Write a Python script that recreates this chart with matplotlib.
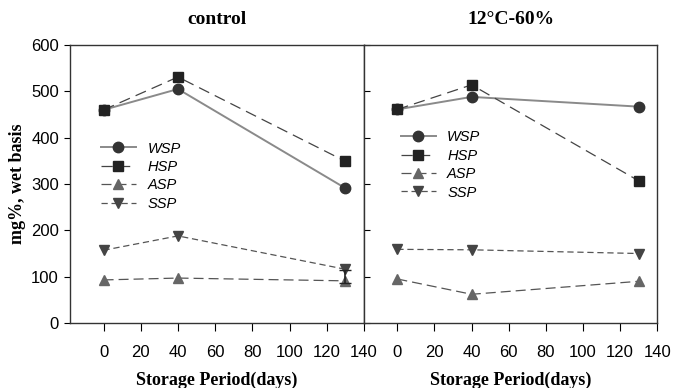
import matplotlib
matplotlib.use("Agg")
import matplotlib.pyplot as plt

days = [0, 40, 130]
series = ["WSP", "HSP", "ASP", "SSP"]
control = {
    "WSP": [460, 505, 291],
    "HSP": [460, 531, 349],
    "ASP": [93, 97, 91],
    "SSP": [157, 188, 116],
}
treated = {
    "WSP": [461, 488, 467],
    "HSP": [461, 514, 307],
    "ASP": [95, 62, 90],
    "SSP": [159, 158, 150],
}
titles = ["control", "12°C-60%"]
xticks = [0, 20, 40, 60, 80, 100, 120, 140]
yticks = [0, 100, 200, 300, 400, 500, 600]

styles = {
    "WSP": dict(color="#8a8a8a", marker="o", mfc="#333333", mec="#333333", ls="-", lw=1.4, ms=7.5),
    "HSP": dict(color="#444444", marker="s", mfc="#222222", mec="#222222", ls=(0, (9, 5)), lw=0.9, ms=7.5),
    "ASP": dict(color="#555555", marker="^", mfc="#666666", mec="#666666", ls=(0, (8, 4)), lw=0.9, ms=7.5),
    "SSP": dict(color="#555555", marker="v", mfc="#444444", mec="#444444", ls=(0, (5, 3)), lw=0.9, ms=7.5),
}

fig = plt.figure(figsize=(6.74, 3.88), dpi=100)
ax1 = fig.add_axes([0.104, 0.1675, 0.436, 0.7165])
ax2 = fig.add_axes([0.540, 0.1675, 0.435, 0.7165])

serif = ["Liberation Serif", "DejaVu Serif"]
sans = ["Liberation Sans", "DejaVu Sans"]

for ax, data, title, legpos in [(ax1, control, titles[0], (0.06, 0.70)),
                                (ax2, treated, titles[1], (0.08, 0.74))]:
    for s in series:
        ax.plot(days, data[s], label=s, **styles[s])
    ax.set_xlim(-18, 140)
    ax.set_ylim(0, 600)
    ax.set_xticks(xticks)
    ax.set_yticks(yticks)
    ax.set_title(title, fontfamily=serif, fontweight="bold", fontsize=14, pad=15)
    ax.set_xlabel("Storage Period(days)", fontfamily=serif, fontweight="bold", fontsize=13, labelpad=8)
    for lab in ax.get_xticklabels() + ax.get_yticklabels():
        lab.set_fontfamily(sans)
        lab.set_fontsize(12)
    for sp in ax.spines.values():
        sp.set_color("#333333")
        sp.set_linewidth(1.0)
    ax.tick_params(axis="x", direction="out", length=6, pad=10)
    leg = ax.legend(loc="upper left", bbox_to_anchor=legpos, frameon=False,
                    handlelength=2.4, labelspacing=0.3, handletextpad=0.8,
                    prop=dict(family=sans, style="italic", size=10.5))

ax1.errorbar([130], [control["SSP"][2] - 12], yerr=[[18], [10]], fmt="none",
             ecolor="#222222", capsize=4, lw=1.2)
ax1.tick_params(axis="y", direction="out", length=4, pad=4)
ax2.tick_params(axis="y", direction="in", length=4, labelleft=False)
ax1.set_ylabel("mg%, wet basis", fontfamily=serif, fontweight="bold", fontsize=13, labelpad=4)

fig.savefig("out.png", dpi=100)
